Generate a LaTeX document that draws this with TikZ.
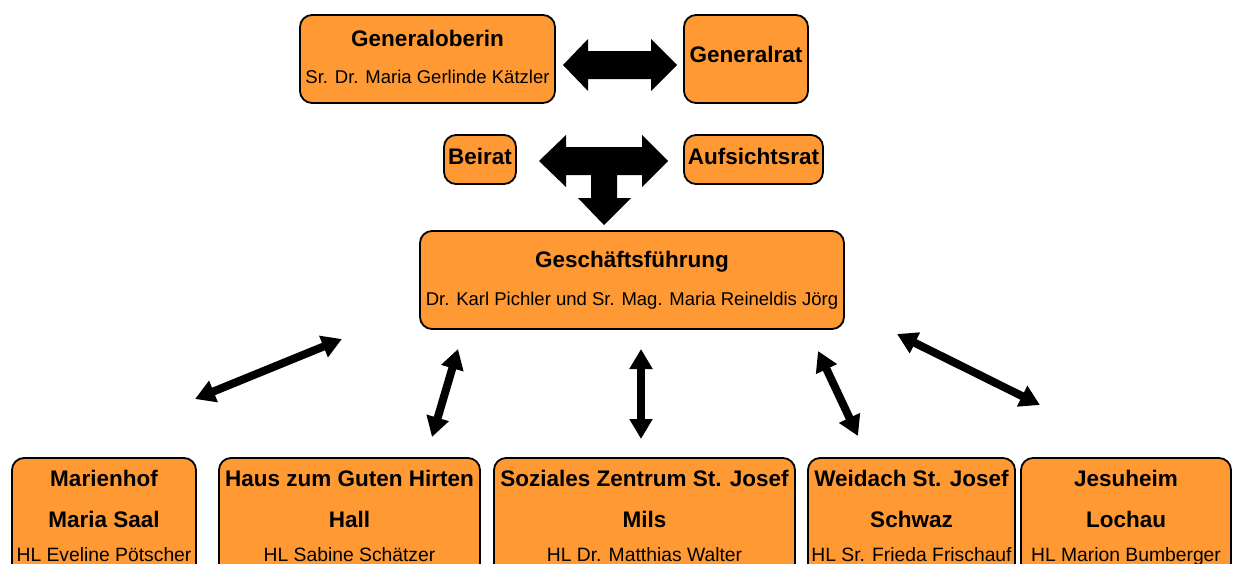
\documentclass[tikz,border=0pt]{standalone}
\usepackage{fontspec}
\setmainfont{Liberation Sans}
\usetikzlibrary{arrows.meta,calc}
\definecolor{boxorange}{HTML}{FF9933}
\begin{document}
\begin{tikzpicture}[x=1pt,y=-1pt,
 box/.style={draw=black, line width=1.8pt, fill=boxorange, rounded corners=12pt, inner sep=0pt},
 ttl/.style={font=\fontsize{22.5}{22.5}\selectfont\bfseries, inner sep=0pt, anchor=base},
 sub/.style={font=\fontsize{18.5}{18.5}\selectfont, inner sep=0pt, anchor=base},
 bsub/.style={font=\fontsize{19.3}{19.3}\selectfont, inner sep=0pt, anchor=base},
 blk/.style={fill=black, draw=none},
 link/.style={line width=8pt, {Triangle[length=20pt,width=22pt]}-{Triangle[length=20pt,width=22pt]}}
]
\useasboundingbox (0,0) rectangle (1237,563);
\clip (0,0) rectangle (1237,563);
\fill[white] (0,0) rectangle (1237,563);

% boxes
\node[box, minimum width=255pt, minimum height=88pt] (gob) at (427.5,59) {};
\node[box, minimum width=124pt, minimum height=88pt] (grat) at (746,59) {};
\node[box, minimum width=72pt, minimum height=49pt] (beir) at (480,159.5) {};
\node[box, minimum width=139pt, minimum height=49pt] (aufs) at (753.5,159.5) {};
\node[box, minimum width=424pt, minimum height=98pt] (gf) at (632,280) {};
\node[box, minimum width=184pt, minimum height=120pt] (b1) at (104,518) {};
\node[box, minimum width=261pt, minimum height=120pt] (b2) at (349.5,518) {};
\node[box, minimum width=301pt, minimum height=120pt] (b3) at (644.5,518) {};
\node[box, minimum width=207pt, minimum height=120pt] (b4) at (911.5,518) {};
\node[box, minimum width=210pt, minimum height=120pt] (b5) at (1126,518) {};

% texts
\node[ttl] (gobT) at (427.5,46) {Generaloberin};
\node[sub] (gobS) at (427.5,83) {Sr. Dr. Maria Gerlinde Kätzler};
\node[ttl] (gratT) at (746,62) {Generalrat};
\node[ttl] (beirT) at (480,164) {Beirat};
\node[ttl] (aufsT) at (753.5,164) {Aufsichtsrat};
\node[ttl] (gfT) at (632,267) {Geschäftsführung};
\node[sub] (gfS) at (632,305) {Dr. Karl Pichler und Sr. Mag. Maria Reineldis Jörg};

\node[ttl] (b1a) at (104,486) {Marienhof};
\node[ttl] (b1b) at (104,527) {Maria Saal};
\node[bsub] (b1c) at (104,561) {HL Eveline Pötscher};
\node[ttl] (b2a) at (349.5,486) {Haus zum Guten Hirten};
\node[ttl] (b2b) at (349.5,527) {Hall};
\node[bsub] (b2c) at (349.5,561) {HL Sabine Schätzer};
\node[ttl] (b3a) at (644.5,486) {Soziales Zentrum St. Josef};
\node[ttl] (b3b) at (644.5,527) {Mils};
\node[bsub] (b3c) at (644.5,561) {HL Dr. Matthias Walter};
\node[ttl] (b4a) at (911.5,486) {Weidach St. Josef};
\node[ttl] (b4b) at (911.5,527) {Schwaz};
\node[bsub] (b4c) at (911.5,561) {HL Sr. Frieda Frischauf};
\node[ttl] (b5a) at (1126,486) {Jesuheim};
\node[ttl] (b5b) at (1126,527) {Lochau};
\node[bsub] (b5c) at (1126,561) {HL Marion Bumberger};

% block arrows
\fill[blk] (563,65) -- (588,39) -- (588,51) -- (651,51) -- (651,39) -- (677,65)
  -- (651,91) -- (651,79) -- (588,79) -- (588,91) -- cycle;
\fill[blk] (539,161) -- (566,135) -- (566,147) -- (642,147) -- (642,135) -- (668,161)
  -- (642,187) -- (642,175) -- (617,175) -- (617,198) -- (631,198) -- (604,225)
  -- (578,198) -- (591,198) -- (591,175) -- (566,175) -- (566,187) -- cycle;

% thin double arrows
\coordinate (a1s) at (195,399); \coordinate (a1e) at (342,339);
\coordinate (a2s) at (432,437); \coordinate (a2e) at (458,349);
\coordinate (a3s) at (641,439); \coordinate (a3e) at (641,349);
\coordinate (a4s) at (858,436); \coordinate (a4e) at (818,351);
\coordinate (a5s) at (1040,405); \coordinate (a5e) at (897,334);
\draw[link] (a1s) -- (a1e);
\draw[link] (a2s) -- (a2e);
\draw[link] (a3s) -- (a3e);
\draw[link] (a4s) -- (a4e);
\draw[link] (a5s) -- (a5e);
\end{tikzpicture}
\end{document}
